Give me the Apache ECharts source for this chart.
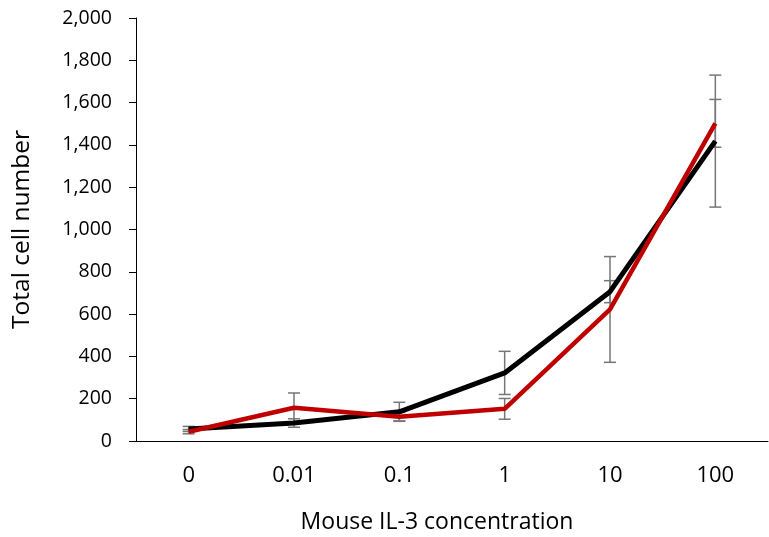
<!DOCTYPE html>
<html>
<head>
<meta charset="utf-8">
<script src="https://cdn.jsdelivr.net/npm/echarts@6/dist/echarts.min.js"></script>
<style>
  html, body { margin: 0; padding: 0; background: #fff; }
  #chart { width: 769px; height: 537px; }
</style>
</head>
<body>
<div id="chart"></div>
<script>
var concentrations = ['0', '0.01', '0.1', '1', '10', '100'];
var blackValues = [57, 85, 138, 322, 706, 1418];
var blackErrors = [12, 20, 45, 102, 52, 312];
var redValues = [44, 157, 115, 152, 622, 1502];
var redErrors = [10, 70, 20, 49, 250, 113];

function errorBarData(values, errors) {
    var out = [];
    for (var i = 0; i < values.length; i++) {
        out.push([i, values[i] - errors[i], values[i] + errors[i]]);
    }
    return out;
}

function renderErrorBar(params, api) {
    var low = api.coord([api.value(0), api.value(1)]);
    var high = api.coord([api.value(0), api.value(2)]);
    var half = 6;
    var style = { stroke: '#767676', lineWidth: 1.5 };
    return {
        type: 'group',
        children: [
            { type: 'line', shape: { x1: low[0], y1: low[1], x2: high[0], y2: high[1] }, style: style },
            { type: 'line', shape: { x1: low[0] - half, y1: low[1], x2: low[0] + half, y2: low[1] }, style: style },
            { type: 'line', shape: { x1: high[0] - half, y1: high[1], x2: high[0] + half, y2: high[1] }, style: style }
        ]
    };
}

var myChart = echarts.init(document.getElementById('chart'));
var font = '"Open Sans", sans-serif';
var option = {
    animation: false,
    textStyle: { fontFamily: font },
    grid: { left: 136, right: 1, top: 18, bottom: 96, outerBoundsMode: 'none' },
    xAxis: {
        type: 'category',
        data: concentrations,
        name: 'Mouse IL-3 concentration',
        nameLocation: 'middle',
        nameGap: 70,
        nameTextStyle: { fontSize: 23, color: '#000', fontFamily: font, padding: [0, 30, 0, 0] },
        axisLine: { lineStyle: { color: '#000', width: 1 } },
        axisTick: { show: false },
        axisLabel: { fontSize: 22, color: '#000', margin: 24, fontFamily: font }
    },
    yAxis: {
        type: 'value',
        min: 0,
        max: 2000,
        interval: 200,
        name: 'Total cell number',
        nameLocation: 'middle',
        nameGap: 101,
        nameTextStyle: { fontSize: 24.5, color: '#000', fontFamily: font },
        axisLine: { show: true, lineStyle: { color: '#000', width: 1 } },
        axisTick: { show: true, length: 7, lineStyle: { color: '#000' } },
        splitLine: { show: false },
        axisLabel: {
            fontSize: 19.5, color: '#000', margin: 24, fontFamily: font,
            formatter: function (v) { return v.toLocaleString('en-US'); }
        }
    },
    series: [
        {
            name: 'black',
            type: 'line',
            data: blackValues,
            symbol: 'none',
            lineStyle: { color: '#000000', width: 5 },
            z: 3
        },
        {
            name: 'red',
            type: 'line',
            data: redValues,
            symbol: 'none',
            lineStyle: { color: '#c00000', width: 4.5 },
            z: 4
        },
        {
            type: 'custom',
            renderItem: renderErrorBar,
            data: errorBarData(blackValues, blackErrors),
            encode: { x: 0, y: [1, 2] },
            z: 2
        },
        {
            type: 'custom',
            renderItem: renderErrorBar,
            data: errorBarData(redValues, redErrors),
            encode: { x: 0, y: [1, 2] },
            z: 2
        }
    ]
};
myChart.setOption(option);
</script>
</body>
</html>
